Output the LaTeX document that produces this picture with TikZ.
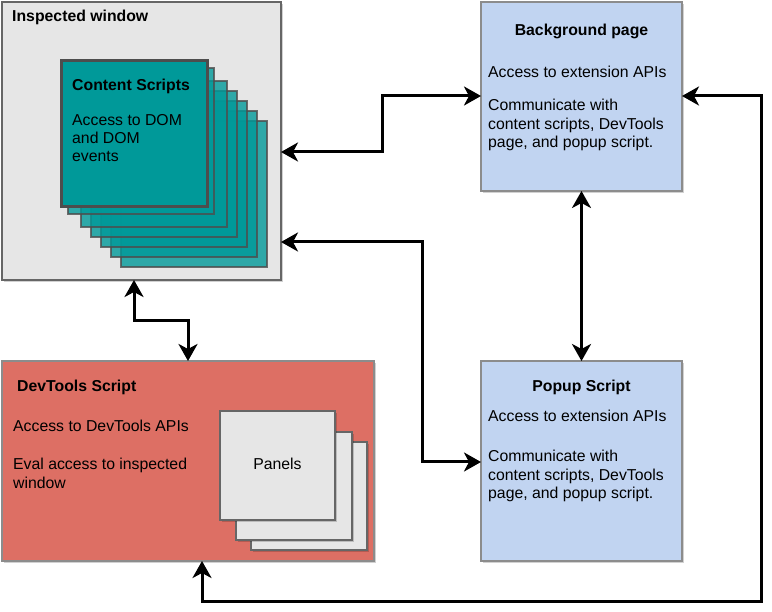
\documentclass[tikz,border=0pt]{standalone}
\usepackage{fontspec}
\setmainfont{Liberation Sans}
\usetikzlibrary{arrows.meta,shadows}
\definecolor{winfill}{HTML}{E6E6E6}
\definecolor{winline}{HTML}{666666}
\definecolor{teal}{HTML}{009999}
\definecolor{tealline}{HTML}{4D4D4D}
\definecolor{bluefill}{HTML}{C1D4F1}
\definecolor{blueline}{HTML}{8C8C8C}
\definecolor{redfill}{HTML}{DD6F64}
\begin{document}
\begin{tikzpicture}[x=1pt,y=-1pt,
  box/.style={draw, inner sep=0pt, outer sep=0pt, anchor=north west},
  shad/.style={drop shadow={shadow xshift=2pt,shadow yshift=-2pt,fill=black,opacity=0.18}},
  winbox/.style={box, fill=winfill, draw=winline, line width=2pt},
  csback/.style={box, fill=teal, fill opacity=0.8, draw=tealline, draw opacity=0.8, line width=2.5pt, minimum width=146pt, minimum height=146pt},
  csfront/.style={box, fill=teal, draw=tealline, line width=3pt, minimum width=146pt, minimum height=146pt},
  bluebox/.style={box, shad, fill=bluefill, draw=blueline, line width=1.5pt},
  redbox/.style={box, shad, fill=redfill, draw=blueline, line width=1.5pt},
  panelbox/.style={box, shad, fill=winfill, draw=winline, line width=2pt},
  txt/.style={inner sep=0pt, anchor=base west, font=\fontsize{15.8}{18.3}\selectfont},
  ttl/.style={txt, font=\fontsize{15.8}{18.3}\selectfont\bfseries},
  conn/.style={line width=3pt, line join=miter, {Stealth[length=17pt,width=19pt,inset=5pt]}-{Stealth[length=17pt,width=19pt,inset=5pt]}}
]
\useasboundingbox (0,0) rectangle (772,612);

% Inspected window
\node[winbox, shad, minimum width=279pt, minimum height=278pt] (iw) at (2,2) {};
\node[ttl] (iwt) at (12,22) {Inspected window};

% content scripts stack
\node[csback] (cs6) at (121,121) {};
\node[csback] (cs5) at (111,111) {};
\node[csback] (cs4) at (101,101) {};
\node[csback] (cs3) at (91,91) {};
\node[csback] (cs2) at (81,81) {};
\node[csback] (cs1) at (68,68) {};
\node[csfront] (cs) at (61,61) {};
\node[ttl] (cst) at (72,91) {Content Scripts};
\node[txt] (csd1) at (72,126) {Access to DOM};
\node[txt] (csd2) at (72,144) {and DOM};
\node[txt] (csd3) at (72,162) {events};

% Background page
\node[bluebox, minimum width=201pt, minimum height=189pt] (bg) at (481,2) {};
\node[ttl, anchor=base] (bgt) at (581.5,36) {Background page};
\node[txt] (bga) at (488,78) {Access to extension APIs};
\node[txt] (bgc1) at (488,111) {Communicate with};
\node[txt] (bgc2) at (488,129.5) {content scripts, DevTools};
\node[txt] (bgc3) at (488,148) {page, and popup script.};

% Popup script
\node[bluebox, minimum width=201pt, minimum height=200pt] (pp) at (481,361) {};
\node[ttl, anchor=base] (ppt) at (581.5,392) {Popup Script};
\node[txt] (ppa) at (488,422) {Access to extension APIs};
\node[txt] (ppc1) at (488,462) {Communicate with};
\node[txt] (ppc2) at (488,480.5) {content scripts, DevTools};
\node[txt] (ppc3) at (488,499) {page, and popup script.};

% DevTools script
\node[redbox, minimum width=372pt, minimum height=200pt] (dt) at (2,361) {};
\node[ttl] (dtt) at (17,392) {DevTools Script};
\node[txt] (dta) at (13,432) {Access to DevTools APIs};
\node[txt] (dte1) at (13,470) {Eval access to inspected};
\node[txt] (dte2) at (13,488.5) {window};

% Panels
\node[panelbox, minimum width=116pt, minimum height=108pt] (p3) at (251,442) {};
\node[panelbox, minimum width=116pt, minimum height=108pt] (p2) at (236,432) {};
\node[panelbox, minimum width=115pt, minimum height=109pt] (p1) at (220,411) {};
\node[txt, anchor=base] (pt) at (277.5,470) {Panels};

% connectors
\draw[conn] (iw.east |- 0,152) -- (382,152) -- (382,96) -- (bg.west |- 0,96);
\draw[conn] (iw.east |- 0,242) -- (422,242) -- (422,462) -- (pp.west |- 0,462);
\draw[conn] (134,0 |- iw.south) -- (134,321) -- (188,321) -- (188,0 |- dt.north);
\draw[conn] (bg.south) -- (pp.north);
\draw[conn] (202,0 |- dt.south) -- (202,601) -- (761,601) -- (761,96) -- (bg.east |- 0,96);
\end{tikzpicture}
\end{document}
